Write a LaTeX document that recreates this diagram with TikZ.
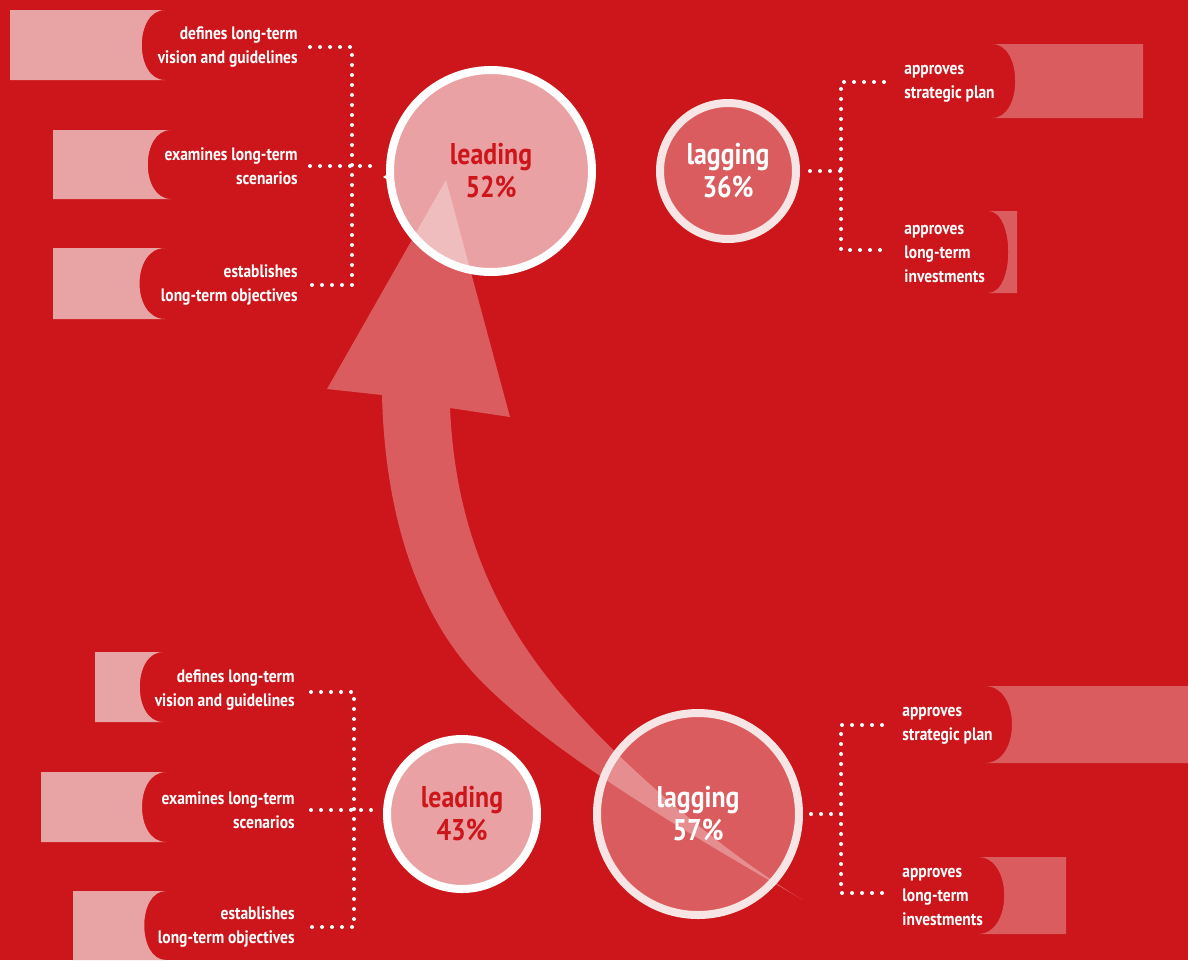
\documentclass[tikz,border=0pt]{standalone}
\usepackage{fontspec}
\newfontfamily\labfont{PT Sans}[FakeStretch=0.86]
\definecolor{bgred}{RGB}{204,22,27}
\definecolor{pinkbox}{RGB}{232,163,165}
\definecolor{rosebox}{RGB}{218,92,95}
\definecolor{lagring}{RGB}{247,228,228}
\begin{document}
\begin{tikzpicture}[x=0.5pt,y=-0.5pt,
  lab/.style={text=white,inner sep=0pt,font={\labfont\bfseries\fontsize{9}{12}\selectfont}},
  labl/.style={lab,anchor=east,align=right},
  labr/.style={lab,anchor=west,align=left},
  dotline/.style={white,line width=2pt,line cap=round,dash pattern=on 0pt off 5pt},
  bubble/.style={circle,inner sep=0pt,line width=4pt,align=center,text opacity=1,
    font={\labfont\bfseries\fontsize{15}{16.5}\selectfont}},
  leadc/.style={bubble,draw=white,fill=white,fill opacity=.6,text=bgred,minimum size=#1},
  lagc/.style={bubble,draw=lagring,fill=white,fill opacity=.3,text=white,minimum size=#1}]
   %background
   \fill[bgred] (0,0) rectangle (1188,960);
   \useasboundingbox (0,0) rectangle (1188,960);
   %arrow
   \fill[white,opacity=.3] (803,900) .. controls (700,840) and (560,760) .. (483,683)
      .. controls (420,620) and (385,520) .. (382,395) -- (327,389) -- (446,180) -- (510,417)
      -- (450,408) .. controls (455,520) and (490,610) .. (560,693)
      .. controls (620,764) and (720,850) .. (803,900) -- cycle;
   %boxes left
   \fill[pinkbox] (10,10) -- (165,10) .. controls (134,10) and (134,80) .. (165,80) -- (10,80) -- cycle;
   \fill[pinkbox] (53,130) -- (171,130) .. controls (140,130) and (140,199) .. (171,199) -- (53,199) -- cycle;
   \fill[pinkbox] (53,248) -- (165,248) .. controls (131,248) and (131,319) .. (165,319) -- (53,319) -- cycle;
   \fill[pinkbox] (95,652) -- (163,652) .. controls (132,652) and (132,722) .. (163,722) -- (95,722) -- cycle;
   \fill[pinkbox] (41,772) -- (166,772) .. controls (134,772) and (134,842) .. (166,842) -- (41,842) -- cycle;
   \fill[pinkbox] (73,891) -- (166,891) .. controls (137,891) and (137,960) .. (166,960) -- (73,960) -- cycle;
   %boxes right
   \fill[rosebox] (992,44) -- (1143,44) -- (1143,118) -- (992,118) .. controls (1023,118) and (1023,44) .. (992,44) -- cycle;
   \fill[rosebox] (988,211) -- (1017,211) -- (1017,293) -- (988,293) .. controls (1015,293) and (1015,211) .. (988,211) -- cycle;
   \fill[rosebox] (985,686) -- (1188,686) -- (1188,763) -- (985,763) .. controls (1021,763) and (1021,686) .. (985,686) -- cycle;
   \fill[rosebox] (978,857) -- (1066,857) -- (1066,934) -- (978,934) .. controls (1013,934) and (1013,857) .. (978,857) -- cycle;
   %circles
   \node[leadc=101pt] (lead1) at (491,171) {leading\\52\%};
   \node[lagc=68pt] (lag1) at (728,171) {lagging\\36\%};
   \node[leadc=75pt] (lead2) at (462,814) {leading\\43\%};
   \node[lagc=101pt] (lag2) at (698,814) {lagging\\57\%};
   \fill[white] (383,177) -- (393,171) -- (393,183) -- cycle;
   %labels
   \node[labl] (tl1) at (298,47) {defines long-term\\vision and guidelines};
   \node[labl] (tl2) at (298,166) {examines long-term\\scenarios};
   \node[labl] (tl3) at (298,285) {establishes\\long-term objectives};
   \node[labl] (bl1) at (295,690) {defines long-term\\vision and guidelines};
   \node[labl] (bl2) at (295,810) {examines long-term\\scenarios};
   \node[labl] (bl3) at (295,927) {establishes\\long-term objectives};
   \node[labr] (tr1) at (904,84) {approves\\strategic plan};
   \node[labr] (tr2) at (904,254) {approves\\long-term\\investments};
   \node[labr] (br1) at (902,726) {approves\\strategic plan};
   \node[labr] (br2) at (902,897) {approves\\long-term\\investments};
   %dots
   \coordinate (tlj1) at (352,47);
   \coordinate (tlj3) at (352,285);
   \draw[dotline,shorten <=6pt,shorten >=6pt] (tl1.east) -- (tlj1) -- (tlj3) -- (tl3.east);
   \draw[dotline,shorten <=6pt,shorten >=5pt] (tl2.east) -- (tl2.east -| lead1.west);
   \coordinate (trj1) at (841,82);
   \coordinate (trj2) at (841,250);
   \draw[dotline,shorten <=10pt,shorten >=10pt] (tr1.west |- trj1) -- (trj1) -- (trj2) -- (tr2.west |- trj2);
   \draw[dotline,shorten <=5pt] (lag1.east) -- (lag1.east -| trj1);
   \coordinate (blj1) at (354,692);
   \coordinate (blj3) at (354,927);
   \draw[dotline,shorten <=8pt,shorten >=8pt] (bl1.east |- blj1) -- (blj1) -- (blj3) -- (bl3.east);
   \draw[dotline,shorten <=8pt,shorten >=2pt] (bl2.east) -- (bl2.east -| lead2.west);
   \coordinate (brj1) at (841,725);
   \coordinate (brj2) at (841,893);
   \draw[dotline,shorten <=10pt,shorten >=10pt] (br1.west |- brj1) -- (brj1) -- (brj2) -- (br2.west |- brj2);
   \draw[dotline,shorten <=4pt] (lag2.east) -- (lag2.east -| brj1);
  \end{tikzpicture}
\end{document}
